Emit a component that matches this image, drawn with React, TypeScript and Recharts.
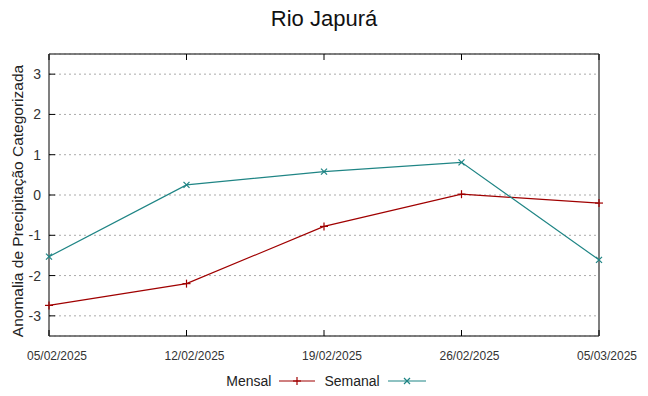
import { LineChart, Line, XAxis, YAxis, CartesianGrid } from 'recharts'

const dates = ['05/02/2025', '12/02/2025', '19/02/2025', '26/02/2025', '05/03/2025']
const mensal = [-2.74, -2.2, -0.78, 0.02, -0.2]
const semanal = [-1.53, 0.25, 0.58, 0.81, -1.61]
const yTicks = [-3, -2, -1, 0, 1, 2, 3]

const data = dates.map((d, i) => ({ date: d, mensal: mensal[i], semanal: semanal[i] }))

const RED = '#a00000'
const TEAL = '#1f8585'
const BORDER = '#555'
const FONT = '"Liberation Sans", Arial, sans-serif'

function PlusDot({ cx, cy, index }: any) {
  if (cx == null || cy == null) return null
  return (
    <g key={`p${index}`}>
      <line x1={cx - 4} x2={cx + 4} y1={cy} y2={cy} stroke={RED} strokeWidth={1.2} />
      <line x1={cx} x2={cx} y1={cy - 4} y2={cy + 4} stroke={RED} strokeWidth={1.2} />
    </g>
  )
}

function CrossDot({ cx, cy, index }: any) {
  if (cx == null || cy == null) return null
  return (
    <g key={`x${index}`}>
      <line x1={cx - 3} x2={cx + 3} y1={cy - 3} y2={cy + 3} stroke={TEAL} strokeWidth={1.2} />
      <line x1={cx - 3} x2={cx + 3} y1={cy + 3} y2={cy - 3} stroke={TEAL} strokeWidth={1.2} />
    </g>
  )
}

function BottomTick({ x, y, payload }: any) {
  return (
    <g>
      <line x1={x} x2={x} y1={y} y2={y - 6} stroke="#000" />
      <text x={x + 8} y={y + 24} textAnchor="middle" fontSize={12} fill="#333" fontFamily={FONT}>
        {payload.value}
      </text>
    </g>
  )
}

function TopTick({ x, y }: any) {
  return <line x1={x} x2={x} y1={y} y2={y + 6} stroke="#000" />
}

function LeftTick({ x, y, payload }: any) {
  return (
    <g>
      <line x1={x} x2={x + 6} y1={y} y2={y} stroke="#000" />
      <text x={x - 8} y={y + 5} textAnchor="end" fontSize={14} fill="#333" fontFamily={FONT}>
        {payload.value}
      </text>
    </g>
  )
}

function RightTick({ x, y }: any) {
  return <line x1={x} x2={x - 6} y1={y} y2={y} stroke="#000" />
}

export default function App() {
  return (
    <div style={{ position: 'absolute', left: 0, top: 0, width: 648, height: 396, background: '#fff', fontFamily: FONT }}>
      <div style={{ position: 'absolute', top: 6, left: 0, width: 648, textAlign: 'center', fontSize: 22, color: '#111' }}>
        Rio Japurá
      </div>
      <div
        style={{
          position: 'absolute', left: 18, top: 201, width: 320, marginLeft: -160, textAlign: 'center',
          transform: 'translateY(-50%) rotate(-90deg)', fontSize: 15.5, color: '#222', whiteSpace: 'nowrap',
        }}
      >
        Anomalia de Precipitação Categorizada
      </div>
      <LineChart width={648} height={396} data={data} margin={{ top: 0, right: 0, bottom: 0, left: 0 }}>
        <CartesianGrid vertical={false} stroke="#aaa" strokeDasharray="2 3" />
        <XAxis
          dataKey="date"
          height={60}
          tickSize={0}
          tickMargin={0}
          tick={BottomTick}
          axisLine={{ stroke: BORDER, strokeWidth: 1.5 }}
          interval={0}
        />
        <XAxis
          xAxisId="t"
          dataKey="date"
          orientation="top"
          height={54}
          tickSize={0}
          tickMargin={0}
          tick={TopTick}
          axisLine={{ stroke: BORDER, strokeWidth: 1.5 }}
          interval={0}
        />
        <YAxis
          domain={[-3.5, 3.5]}
          ticks={yTicks}
          width={49}
          tickSize={0}
          tickMargin={0}
          tick={LeftTick}
          axisLine={{ stroke: BORDER, strokeWidth: 1.5 }}
          interval={0}
        />
        <YAxis
          yAxisId="r"
          orientation="right"
          domain={[-3.5, 3.5]}
          ticks={yTicks}
          width={49}
          tickSize={0}
          tickMargin={0}
          tick={RightTick}
          axisLine={{ stroke: BORDER, strokeWidth: 1.5 }}
          interval={0}
        />
        <Line
          dataKey="mensal"
          stroke={RED}
          strokeWidth={1.2}
          type="linear"
          dot={PlusDot}
          activeDot={false}
          isAnimationActive={false}
        />
        <Line
          dataKey="semanal"
          stroke={TEAL}
          strokeWidth={1.2}
          type="linear"
          dot={CrossDot}
          activeDot={false}
          isAnimationActive={false}
        />
      </LineChart>
      <div style={{ position: 'absolute', top: 373, left: 0, width: 648, display: 'flex', justifyContent: 'center', alignItems: 'center', fontSize: 14, color: '#222' }}>
        <div style={{ display: 'flex', alignItems: 'center', marginLeft: 10 }}>
          <span>Mensal</span>
          <svg width={46} height={12} style={{ marginLeft: 6 }}>
            <line x1={2} x2={38} y1={6} y2={6} stroke={RED} strokeWidth={1.2} />
            <line x1={16} x2={24} y1={6} y2={6} stroke={RED} strokeWidth={1.2} />
            <line x1={20} x2={20} y1={2} y2={10} stroke={RED} strokeWidth={1.2} />
          </svg>
          <span style={{ marginLeft: 1 }}>Semanal</span>
          <svg width={46} height={12} style={{ marginLeft: 6 }}>
            <line x1={2} x2={40} y1={6} y2={6} stroke={TEAL} strokeWidth={1.2} />
            <line x1={18} x2={24} y1={3} y2={9} stroke={TEAL} strokeWidth={1.2} />
            <line x1={18} x2={24} y1={9} y2={3} stroke={TEAL} strokeWidth={1.2} />
          </svg>
        </div>
      </div>
    </div>
  )
}
